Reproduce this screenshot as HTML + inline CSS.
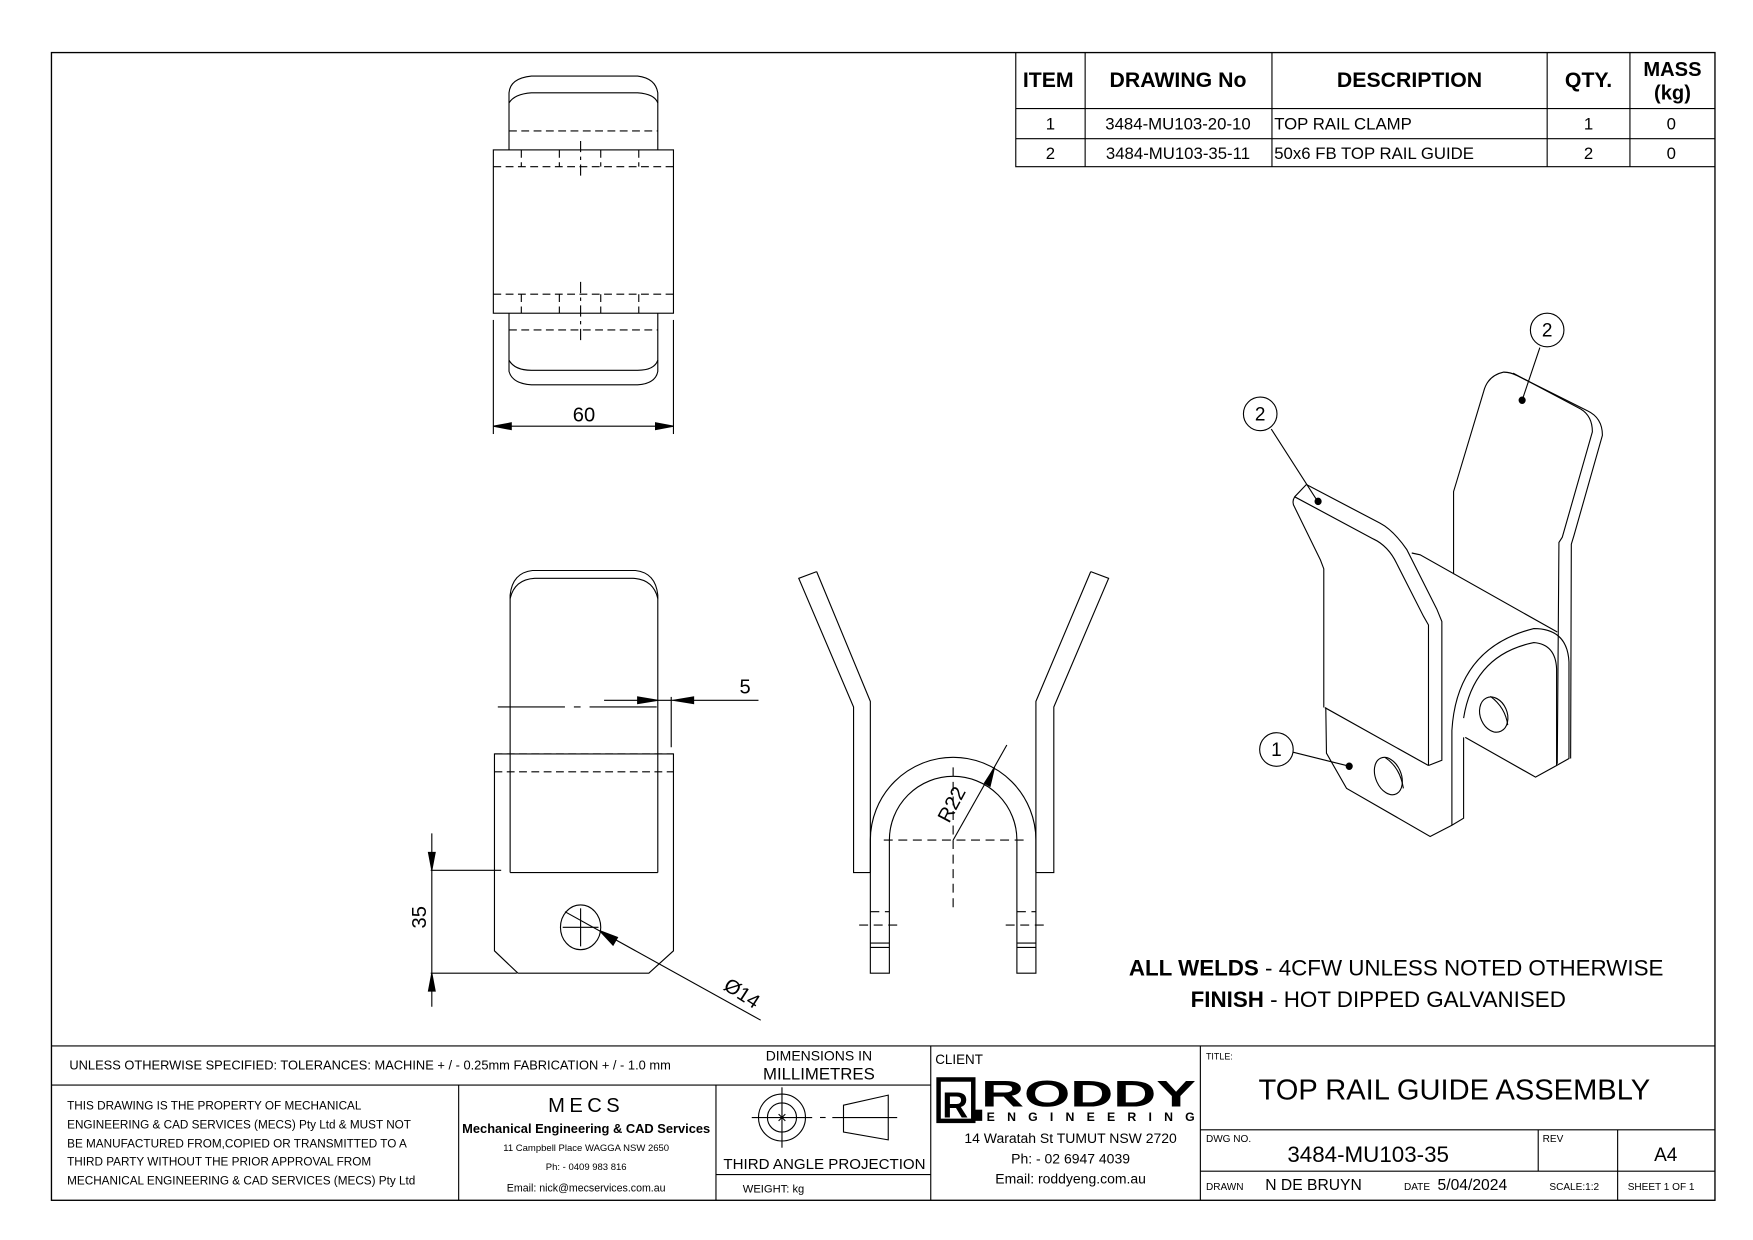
<!DOCTYPE html>
<html><head><meta charset="utf-8"><style>
html,body{margin:0;padding:0;background:#fff}
svg{display:block}
text{font-family:"Liberation Sans",sans-serif;fill:#000}
</style></head><body>
<svg width="1753" height="1240" viewBox="0 0 1567 1108.5" preserveAspectRatio="none" xmlns="http://www.w3.org/2000/svg">
<g fill="none" stroke="#000" stroke-width="1">
<rect x="46" y="47" width="1487" height="1026" stroke-width="1.2"/>
<!-- parts table -->
<polyline points="908,47 908,149 1533,149"/>
<line x1="908" y1="97" x2="1533" y2="97"/>
<line x1="908" y1="124" x2="1533" y2="124"/>
<line x1="970" y1="47" x2="970" y2="149"/>
<line x1="1137" y1="47" x2="1137" y2="149"/>
<line x1="1383" y1="47" x2="1383" y2="149"/>
<line x1="1457" y1="47" x2="1457" y2="149"/>
<!-- title block -->
<line x1="46" y1="935" x2="1533" y2="935"/>
<line x1="46" y1="970" x2="832" y2="970"/>
<line x1="410" y1="970" x2="410" y2="1073"/>
<line x1="640" y1="970" x2="640" y2="1073"/>
<line x1="640" y1="1050" x2="832" y2="1050"/>
<line x1="832" y1="935" x2="832" y2="1073"/>
<line x1="1073" y1="935" x2="1073" y2="1073"/>
<line x1="1073" y1="1010" x2="1533" y2="1010"/>
<line x1="1073" y1="1047" x2="1533" y2="1047"/>
<line x1="1375" y1="1010" x2="1375" y2="1047"/>
<line x1="1446" y1="1010" x2="1446" y2="1073"/>
<!-- third angle symbol -->
<circle cx="699" cy="999" r="21"/><circle cx="699" cy="999" r="13"/>
<line x1="672" y1="999" x2="726" y2="999"/><line x1="699" y1="972" x2="699" y2="1026"/>
<line x1="733" y1="999" x2="738" y2="999"/>
<line x1="744" y1="999" x2="802" y2="999"/>
<polygon points="754,988 794,979 794,1019 754,1012"/>
<path d="M696,996 L702,1002 M702,996 L696,1002"/>

<!-- TOP VIEW -->
<rect x="441" y="134" width="161" height="146"/>
<path d="M455,134 L455,83 Q456,70 475,68 L570,68 Q586,70 588,83 L588,134"/>
<path d="M455,92 Q460,84 475,83 L570,83 Q585,84 588,92"/>
<path d="M455,280 L455,332 Q458,343 475,344 L570,344 Q586,343 588,332 L588,280"/>
<path d="M455,322 Q460,331 475,331 L570,331 Q585,331 588,322"/>
<g stroke-dasharray="7,4">
<line x1="455" y1="117" x2="588" y2="117"/>
<line x1="441" y1="149" x2="602" y2="149"/>
<line x1="441" y1="263" x2="602" y2="263"/>
<line x1="455" y1="295" x2="588" y2="295"/>
<line x1="466" y1="134" x2="466" y2="149"/><line x1="500" y1="134" x2="500" y2="149"/>
<line x1="537" y1="134" x2="537" y2="149"/><line x1="571" y1="134" x2="571" y2="149"/>
<line x1="466" y1="263" x2="466" y2="280"/><line x1="500" y1="263" x2="500" y2="280"/>
<line x1="537" y1="263" x2="537" y2="280"/><line x1="571" y1="263" x2="571" y2="280"/>
</g>
<g stroke-dasharray="10,4,3,4">
<line x1="519" y1="126" x2="519" y2="160"/>
<line x1="519" y1="252" x2="519" y2="304"/>
</g>
<line x1="441" y1="286" x2="441" y2="388"/>
<line x1="602" y1="286" x2="602" y2="388"/>
<line x1="441" y1="381" x2="602" y2="381"/>
<path d="M441,381 L457,378 L457,384 Z M602,381 L586,378 L586,384 Z" fill="#000"/>

<!-- FRONT VIEW -->
<path d="M456,780 L456,532 Q458,512 476,510 L568,510 Q586,512 588,532 L588,780 Z"/>
<path d="M456,535 Q460,518 478,517 L566,517 Q584,518 588,535"/>
<path d="M442,674 L602,674 L602,850 L580,870 L463,870 L442,850 Z" fill="#fff"/>
<line x1="456" y1="674" x2="456" y2="780"/><line x1="588" y1="674" x2="588" y2="780"/>
<line x1="456" y1="780" x2="588" y2="780"/>
<line x1="442" y1="690" x2="602" y2="690" stroke-dasharray="7,4"/>
<line x1="442" y1="674" x2="602" y2="674" stroke-dasharray="7,4"/>
<ellipse cx="519" cy="829" rx="18" ry="20"/>
<line x1="503" y1="829" x2="535" y2="829"/><line x1="519" y1="812" x2="519" y2="846"/>
<line x1="445" y1="632" x2="595" y2="632" stroke-dasharray="60,8,6,8"/>
<line x1="540" y1="626" x2="678" y2="626"/>
<line x1="600" y1="623" x2="600" y2="668"/>
<path d="M588,626 L570,623 L570,629 Z M602,626 L620,623 L620,629 Z" fill="#000"/>
<line x1="386" y1="745" x2="386" y2="900"/>
<line x1="385" y1="778" x2="448" y2="778"/>
<line x1="385" y1="870" x2="462" y2="870"/>
<path d="M386,778 L383,762 L389,762 Z M386,870 L383,886 L389,886 Z" fill="#000"/>
<line x1="505" y1="815" x2="680" y2="912"/>
<path d="M536,832 L552,838 L548,845 Z" fill="#000"/>

<!-- SIDE VIEW -->
<path d="M730,511 L714,517 L763,632 L763,780 L778,780"/>
<path d="M730,511 L778,627 L778,780"/>
<path d="M975,511 L991,517 L942,632 L942,780 L926,780"/>
<path d="M975,511 L926,627 L926,780"/>
<path d="M778,870 L778,751 A74,74 0 0 1 926,751 L926,870 L909,870 L909,751 A57,57 0 0 0 795,751 L795,870 Z"/>
<g stroke-dasharray="8,5">
<line x1="790" y1="751" x2="915" y2="751"/>
<line x1="852" y1="686" x2="852" y2="812"/>
<line x1="778" y1="815" x2="795" y2="815"/><line x1="909" y1="815" x2="926" y2="815"/>
<line x1="768" y1="827" x2="805" y2="827"/><line x1="899" y1="827" x2="936" y2="827"/>
</g>
<line x1="778" y1="843" x2="795" y2="843"/><line x1="778" y1="847" x2="795" y2="847"/>
<line x1="909" y1="843" x2="926" y2="843"/><line x1="909" y1="847" x2="926" y2="847"/>
<line x1="852" y1="751" x2="900" y2="666"/>
<path d="M889,686 L880,700 L885,703 Z" fill="#000"/>

<!-- ISO VIEW -->
<g transform="translate(1102,277.7) scale(0.299,0.314)" stroke-width="3.3">
<path d="M660,750 L660,515 L668,490 L750,230 Q762,185 810,175 Q830,175 850,185 L1060,285 Q1105,305 1105,355 L1020,640 L1012,665 L1010,1275"/>
<path d="M838,178 L1040,280 Q1075,300 1075,345 L985,645 L975,660 L970,1290"/>
<path d="M220,495 L185,530 Q175,545 185,560 L262,710 L272,735 L272,1130"/>
<path d="M220,495 L440,605 Q480,625 520,680 L610,850 L625,885 L625,1280 L585,1295"/>
<path d="M185,530 L420,650 Q465,670 490,720 L570,870 L585,895 L585,1295"/>
<path d="M275,1130 L585,1295"/>
<path d="M278,1130 L280,1260 L340,1360 L590,1497 L655,1465 L690,1445 L690,1215"/>
<path d="M655,1465 L655,1195 Q670,960 900,905 Q1000,905 1005,1000 L1005,1275 L968,1295"/>
<path d="M690,1160 Q720,980 900,945 Q965,950 968,1020 L968,1295 L905,1328 L695,1215"/>
<path d="M535,690 L560,695 L970,915"/>
<ellipse cx="465" cy="1325" rx="38" ry="56" transform="rotate(-25 465 1325)"/>
<path d="M455,1272 Q500,1300 510,1360"/>
<ellipse cx="780" cy="1150" rx="40" ry="52" transform="rotate(-25 780 1150)"/>
<path d="M770,1098 Q815,1130 822,1180"/>
<line x1="918" y1="105" x2="865" y2="255"/>
<line x1="115" y1="337" x2="255" y2="545"/>
<line x1="180" y1="1257" x2="348" y2="1297"/>
<g fill="#000"><circle cx="865" cy="255" r="9"/><circle cx="255" cy="543" r="9"/><circle cx="348" cy="1297" r="9"/></g>
</g>
<circle cx="1383" cy="295" r="15"/>
<circle cx="1126.5" cy="370" r="15"/>
<circle cx="1141" cy="670" r="15"/>

<!-- logo -->
<rect x="839" y="965" width="31" height="37" stroke-width="4"/>
<rect x="870" y="992" width="8" height="10" fill="#000" stroke="none"/>
</g>

<!-- TEXT -->
<g font-size="19" font-weight="bold" text-anchor="middle">
<text x="937" y="78">ITEM</text>
<text x="1053" y="78">DRAWING No</text>
<text x="1260" y="78">DESCRIPTION</text>
<text x="1420" y="78">QTY.</text>
<text x="1495" y="68" font-size="18">MASS</text>
<text x="1495" y="89" font-size="18">(kg)</text>
</g>
<g font-size="15" text-anchor="middle">
<text x="939" y="116">1</text><text x="1053" y="116">3484-MU103-20-10</text>
<text x="1420" y="116">1</text><text x="1494" y="116">0</text>
<text x="939" y="142">2</text><text x="1053" y="142">3484-MU103-35-11</text>
<text x="1420" y="142">2</text><text x="1494" y="142">0</text>
</g>
<g font-size="15"><text x="1139" y="116">TOP RAIL CLAMP</text><text x="1139" y="142">50x6 FB TOP RAIL GUIDE</text></g>

<g font-size="18" text-anchor="middle">
<text x="522" y="377">60</text>
<text x="666" y="620">5</text>
<text transform="translate(381,820) rotate(-90)">35</text>
<text transform="translate(660,893) rotate(33)">Ø14</text>
<text transform="translate(856,722) rotate(-62)">R22</text>
</g>
<g font-size="17" text-anchor="middle">
<text x="1383" y="301">2</text>
<text x="1126.5" y="376">2</text>
<text x="1141" y="676">1</text>
</g>
<g font-size="20" text-anchor="middle">
<text x="1248" y="872"><tspan font-weight="bold">ALL WELDS</tspan> - 4CFW UNLESS NOTED OTHERWISE</text>
<text x="1232" y="900"><tspan font-weight="bold">FINISH</tspan> - HOT DIPPED GALVANISED</text>
</g>

<text x="62" y="956" font-size="11.5">UNLESS OTHERWISE SPECIFIED: TOLERANCES: MACHINE + / - 0.25mm  FABRICATION + / - 1.0 mm</text>
<text x="732" y="948" font-size="12.5" text-anchor="middle">DIMENSIONS IN</text>
<text x="732" y="965" font-size="15" text-anchor="middle">MILLIMETRES</text>
<g font-size="10.5">
<text x="60" y="992">THIS DRAWING IS THE PROPERTY OF MECHANICAL</text>
<text x="60" y="1009">ENGINEERING &amp; CAD SERVICES (MECS) Pty Ltd &amp; MUST NOT</text>
<text x="60" y="1026">BE MANUFACTURED FROM,COPIED OR TRANSMITTED TO A</text>
<text x="60" y="1042">THIRD PARTY WITHOUT THE PRIOR APPROVAL FROM</text>
<text x="60" y="1059">MECHANICAL ENGINEERING &amp; CAD SERVICES (MECS) Pty Ltd</text>
</g>
<g text-anchor="middle">
<text x="524" y="994" font-size="18" letter-spacing="4">MECS</text>
<text x="524" y="1013" font-size="11.5" font-weight="bold">Mechanical Engineering &amp; CAD Services</text>
<text x="524" y="1029" font-size="8.5">11 Campbell Place WAGGA NSW 2650</text>
<text x="524" y="1046" font-size="8.5">Ph: - 0409 983 816</text>
<text x="524" y="1065" font-size="9.5">Email: nick@mecservices.com.au</text>
<text x="737" y="1045" font-size="13.5">THIRD ANGLE PROJECTION</text>
</g>
<text x="664" y="1066" font-size="10">WEIGHT: kg</text>
<text x="836" y="951" font-size="12">CLIENT</text>
<text x="854" y="999" font-size="32" font-weight="bold" text-anchor="middle">R</text>
<text x="973" y="989" font-size="33" font-weight="bold" text-anchor="middle" textLength="192" lengthAdjust="spacingAndGlyphs">RODDY</text>
<text x="882" y="1002" font-size="11" font-weight="bold" textLength="186" lengthAdjust="spacing">ENGINEERING</text>
<g text-anchor="middle" font-size="12.5">
<text x="957" y="1022">14 Waratah St TUMUT NSW 2720</text>
<text x="957" y="1040">Ph: - 02 6947 4039</text>
<text x="957" y="1058">Email: roddyeng.com.au</text>
</g>
<text x="1078" y="947" font-size="8">TITLE:</text>
<text x="1300" y="983" font-size="26" text-anchor="middle">TOP RAIL GUIDE ASSEMBLY</text>
<text x="1078" y="1021" font-size="9">DWG NO.</text>
<text x="1223" y="1039" font-size="20" text-anchor="middle">3484-MU103-35</text>
<text x="1379" y="1021" font-size="9">REV</text>
<text x="1489" y="1038" font-size="17" text-anchor="middle">A4</text>
<text x="1078" y="1064" font-size="9">DRAWN</text>
<text x="1131" y="1064" font-size="14">N DE BRUYN</text>
<text x="1255" y="1064" font-size="9">DATE</text>
<text x="1285" y="1064" font-size="14">5/04/2024</text>
<text x="1385" y="1064" font-size="9">SCALE:1:2</text>
<text x="1455" y="1064" font-size="9">SHEET 1 OF 1</text>
</svg>
</body></html>
